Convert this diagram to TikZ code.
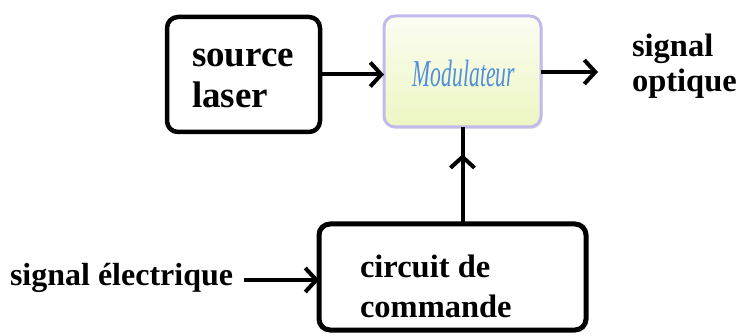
\documentclass[tikz,border=0pt]{standalone}
\usepackage{fontspec}
\setmainfont{Liberation Serif}
\usetikzlibrary{arrows.meta,decorations.markings,shadows}
\definecolor{modborder}{HTML}{C2B9EC}
\definecolor{modtop}{HTML}{FBFDF3}
\definecolor{modbottom}{HTML}{EDF6C2}
\definecolor{modtext}{HTML}{4F8EDC}
\tikzset{
  barb/.tip={Straight Barb[length=11pt,width=24pt,line width=4pt]},
  blockbox/.style={draw=black, line width=4.5pt, rounded corners=11pt,
    inner sep=0pt, outer sep=0pt, fill=white},
  modbox/.style={draw=modborder, line width=3pt, rounded corners=11pt,
    inner sep=0pt, outer sep=0pt, top color=modtop, bottom color=modbottom,
    drop shadow={shadow xshift=1.5pt, shadow yshift=-2pt, opacity=0.25, fill=black!40}},
  lbl/.style={font=\bfseries, anchor=base west, inner sep=0pt, outer sep=0pt},
  flow/.style={line width=4pt, -barb},
  wire/.style={line width=4pt}
}
\begin{document}
\begin{tikzpicture}[x=1pt,y=1pt]
  \useasboundingbox (0,0) rectangle (742,335);

  % blocks
  \node[blockbox, minimum width=153pt, minimum height=115pt] (src) at (243.5,260.5) {};
  \node[modbox, minimum width=157pt, minimum height=111pt] (mod) at (462.5,263.5) {};
  \node[blockbox, line width=5pt, minimum width=267pt, minimum height=106pt] (circ) at (452.5,58) {};

  % block texts
  \node[lbl, font=\bfseries\fontsize{37}{41}\selectfont] (srcA) at (192,268) {source};
  \node[lbl, font=\bfseries\fontsize{37}{41}\selectfont] (srcB) at (192,227) {laser};
  \node[inner sep=0pt, anchor=base, text=modtext, xscale=0.57] (modt) at (464,248)
    {\fontsize{38}{40}\selectfont\itshape Modulateur};
  \node[lbl, font=\bfseries\fontsize{32.5}{40}\selectfont] (circA) at (360,58) {circuit de};
  \node[lbl, font=\bfseries\fontsize{32.5}{40}\selectfont] (circB) at (360,18) {commande};

  % outer labels
  \node[lbl, font=\bfseries\fontsize{32}{36}\selectfont] (elec) at (10,49) {signal électrique};
  \node[lbl, font=\bfseries\fontsize{32.5}{36}\selectfont] (optA) at (632,278) {signal};
  \node[lbl, font=\bfseries\fontsize{32.5}{36}\selectfont] (optB) at (632,243) {optique};

  % connectors
  \coordinate (inA) at (244,55);
  \coordinate (outA) at (598,263);
  \draw[flow] (src.east) -- (src.east -| mod.west);
  \draw[flow] (mod.east |- outA) -- (outA);
  \draw[flow] (inA) -- (inA -| circ.west);
  \draw[wire, postaction={decorate}, decoration={markings,
      mark=at position 0.72 with {\arrow{barb}}}]
    (circ.north -| mod.south) -- (mod.south);
\end{tikzpicture}
\end{document}
